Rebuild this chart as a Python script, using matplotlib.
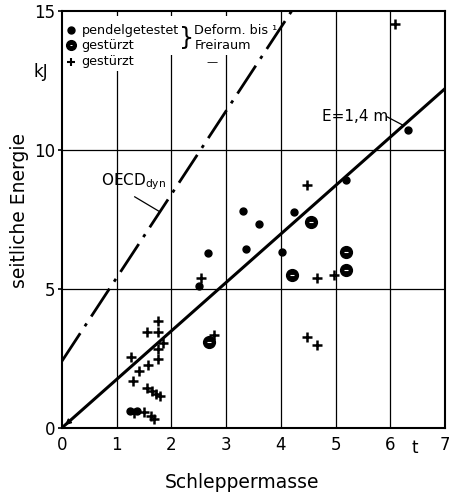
import matplotlib
matplotlib.use("Agg")
import matplotlib.pyplot as plt
from matplotlib.patches import Rectangle

# pendelgetestet (small dots)
pendel_x = [1.25, 1.38, 2.51, 2.66, 3.30, 3.36, 3.60, 4.03, 4.24, 5.19, 6.33]
pendel_y = [0.62, 0.62, 5.11, 6.28, 7.81, 6.43, 7.35, 6.34, 7.78, 8.92, 10.72]

# gestuerzt, Deform. bis Freiraum (big circles)
deform_x = [2.69, 4.20, 4.56, 5.19, 5.19]
deform_y = [3.07, 5.48, 7.42, 6.34, 5.68]

# gestuerzt (plus)
plus_x = [1.76, 1.56, 1.76, 1.84, 1.76, 1.27, 1.76, 1.58, 1.41, 1.29, 1.56, 1.64, 1.72,
          1.79, 1.32, 1.50, 1.62, 1.68, 2.55, 2.77, 4.48, 4.67, 4.97, 4.47, 4.67, 6.09]
plus_y = [3.86, 3.43, 3.46, 3.05, 2.83, 2.53, 2.47, 2.27, 2.03, 1.70, 1.43, 1.31, 1.22,
          1.16, 0.55, 0.58, 0.42, 0.32, 5.38, 3.35, 8.72, 5.38, 5.50, 3.28, 2.99, 14.53]

# lines
e_x = [0, 7]
e_y = [0, 12.2]
oecd_x = [0, 4.2]
oecd_y = [2.4, 15]

xticks = [0, 1, 2, 3, 4, 5, 6, 7]
yticks = [0, 5, 10, 15]

fig = plt.figure(figsize=(4.49, 4.94), dpi=100)
ax = fig.add_axes([0.138, 0.134, 0.853, 0.844])
ax.set_xlim(0, 7)
ax.set_ylim(0, 15)

# grid
for x in xticks[1:-1]:
    ax.axvline(x, color='black', lw=0.9, zorder=1)
for y in [5, 10]:
    ax.axhline(y, color='black', lw=0.9, zorder=1)

# white patch behind legend
ax.add_patch(Rectangle((0.02, 13.4), 3.89, 1.4, facecolor='white', edgecolor='none', zorder=2))
ax.add_patch(Rectangle((0.02, 12.85), 1.78, 0.6, facecolor='white', edgecolor='none', zorder=2))

ax.plot(e_x, e_y, color='black', lw=2.2, zorder=3)
ax.plot(oecd_x, oecd_y, color='black', lw=2.0, linestyle=(0, (12, 3, 1.2, 3)), zorder=3)
ax.annotate('', xy=(0.02, 0.03), xytext=(0.22, 0.38),
            arrowprops=dict(arrowstyle='-|>', color='black', lw=1.2, mutation_scale=8), zorder=3)

ax.plot(pendel_x, pendel_y, 'o', color='black', ms=5, zorder=4)
ax.plot(deform_x, deform_y, 'o', color='black', ms=8.5, zorder=4)
ax.plot(deform_x, deform_y, '_', color='white', ms=2.5, mew=0.8, zorder=5)
ax.plot(plus_x, plus_y, '+', color='black', ms=7, mew=1.8, zorder=4)

# legend text
fs = 9.2
ax.plot([0.17], [14.3], 'o', color='black', ms=5, zorder=4)
ax.text(0.36, 14.3, 'pendelgetestet', fontsize=fs, va='center', zorder=4)
ax.plot([0.17], [13.76], 'o', color='black', ms=7, zorder=4)
ax.plot([0.17], [13.76], '_', color='white', ms=2, mew=0.7, zorder=5)
ax.text(0.36, 13.76, 'gestürzt', fontsize=fs, va='center', zorder=4)
ax.plot([0.17], [13.17], '+', color='black', ms=6, mew=1.5, zorder=4)
ax.text(0.36, 13.17, 'gestürzt', fontsize=fs, va='center', zorder=4)
ax.text(2.27, 14.03, '}', fontsize=17, va='center', ha='center', zorder=4)
ax.text(2.42, 14.3, 'Deform. bis ¹', fontsize=fs, va='center', zorder=4)
ax.text(2.42, 13.76, 'Freiraum', fontsize=fs, va='center', zorder=4)
ax.text(2.74, 13.17, '—', fontsize=8, va='center', ha='center', zorder=4)

# annotations
ax.text(4.75, 11.19, 'E=1,4 m', fontsize=11, va='center', zorder=4)
ax.plot([5.94, 6.22], [11.19, 10.9], color='black', lw=0.9, zorder=4)
ax.text(0.72, 8.85, 'OECD$_{\\mathrm{dyn}}$', fontsize=11, va='center', zorder=4)
ax.plot([1.33, 1.79], [8.31, 7.77], color='black', lw=0.9, zorder=4)

ax.set_xticks(xticks)
ax.set_yticks(yticks)
ax.tick_params(axis='x', length=0, labelsize=12, pad=6)
ax.tick_params(axis='y', length=3, width=1.2, labelsize=12, pad=2)
ax.text(6.44, -0.72, 't', fontsize=12, ha='center', va='center', clip_on=False)
ax.text(-0.38, 12.8, 'kJ', fontsize=12, ha='center', va='center', clip_on=False)
for s in ax.spines.values():
    s.set_linewidth(1.5)

fig.text(242 / 449, 1 - 482 / 494, 'Schleppermasse', fontsize=13.5, ha='center', va='center')
fig.text(20 / 449, 1 - 211 / 494, 'seitliche Energie', fontsize=13.5, ha='center', va='center',
         rotation=90)

fig.savefig('out.png', dpi=100)
